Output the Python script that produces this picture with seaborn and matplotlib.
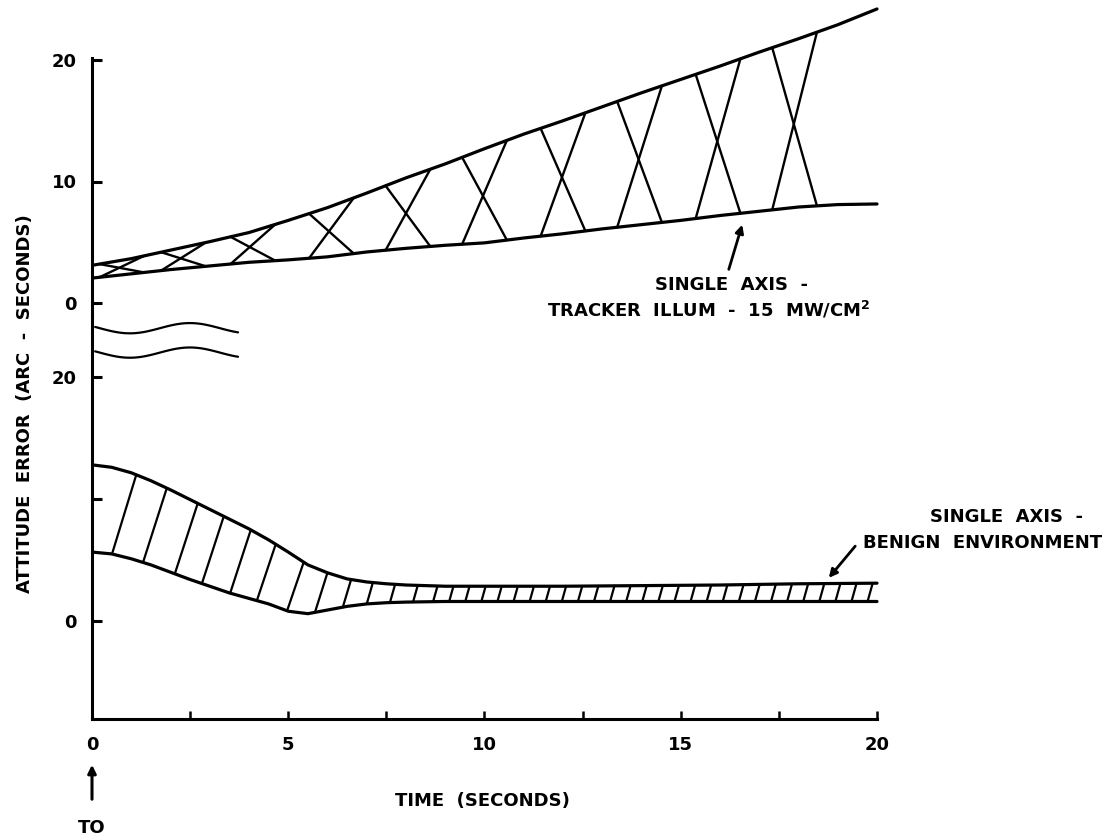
import numpy as np
import matplotlib.pyplot as plt
import seaborn as sns

# ---- data ----
# upper band: single axis, tracker illum 15 mW/cm2 (arc-seconds)
tracker_time = [0, 1, 2, 3, 4, 5, 6, 7, 8, 9, 10, 11, 12, 13, 14, 15, 16, 17, 18, 19, 20]
tracker_upper = [3.1, 3.65, 4.35, 5.05, 5.8, 6.8, 7.85, 9.05, 10.3, 11.45, 12.7,
                 13.9, 15.0, 16.15, 17.3, 18.4, 19.5, 20.65, 21.75, 22.9, 24.2]
tracker_lower = [2.05, 2.4, 2.75, 3.05, 3.35, 3.55, 3.8, 4.2, 4.5, 4.75, 4.95,
                 5.35, 5.7, 6.1, 6.45, 6.8, 7.2, 7.55, 7.9, 8.1, 8.15]

# lower band: single axis, benign environment
benign_time = [0, 0.5, 1, 1.5, 2, 2.5, 3, 3.5, 4, 4.5, 5, 5.5, 6, 6.5, 7, 7.5, 8,
               9, 10, 12, 14, 16, 18, 20]
benign_upper = [12.8, 12.6, 12.15, 11.5, 10.75, 9.95, 9.15, 8.35, 7.55, 6.65, 5.65,
                4.6, 3.95, 3.45, 3.2, 3.05, 2.95, 2.85, 2.85, 2.85, 2.9, 2.95, 3.05, 3.1]
benign_lower = [5.65, 5.5, 5.1, 4.6, 4.0, 3.4, 2.85, 2.3, 1.85, 1.4, 0.8, 0.6, 0.9,
                1.2, 1.4, 1.5, 1.55, 1.6, 1.6, 1.6, 1.6, 1.6, 1.6, 1.6]

# crosses drawn in the upper band (centre times)
cross_centres = [0.76, 2.33, 4.1, 6.1, 8.05, 10.0, 12.0, 13.95, 15.95, 17.9]
# feet of the hatch strokes in the lower band
hatch_feet = [0.51, 1.30, 2.11, 2.80, 3.52, 4.20, 4.97, 5.68, 6.39, 7.0, 7.59, 8.18, 8.69]

x_major = [0, 5, 10, 15, 20]
x_minor = [2.5, 7.5, 12.5, 17.5]
upper_yticks = [0, 10, 20]
lower_yticks = [0, 10, 20]
lower_ylabels = ["0", "", "20"]

# ---- style ----
sns.set_style("white")
plt.rcParams["font.family"] = ["DejaVu Sans"]
plt.rcParams["font.weight"] = "bold"
plt.rcParams["mathtext.default"] = "bf"
plt.rcParams["axes.linewidth"] = 2.2
for key in ["text.color", "axes.labelcolor", "axes.edgecolor", "xtick.color", "ytick.color"]:
    plt.rcParams[key] = "black"

W, H = 1112, 836
PX_X = 39.25          # pixels per second
fig = plt.figure(figsize=(W / 100, H / 100), dpi=100)


def px_axes(left, top, right, bottom):
    return fig.add_axes([left / W, 1 - bottom / H, (right - left) / W, (bottom - top) / H])


x_max = 20.3
right = 92 + x_max * PX_X
ax_top = px_axes(92, 0, right, 315)
ax_bot = px_axes(92, 315, right, 719)
for ax in (ax_top, ax_bot):
    ax.set_facecolor("none")
    ax.set_xlim(0, x_max)

ax_top.set_ylim(-(315 - 303) / 12.15, 303 / 12.15)
ax_bot.set_ylim(-(719 - 621) / 12.2, (621 - 315) / 12.2)

# ---- upper band ----
sns.lineplot(x=tracker_time, y=tracker_upper, ax=ax_top, color="black", lw=2.3)
sns.lineplot(x=tracker_time, y=tracker_lower, ax=ax_top, color="black", lw=2.3)
half = 0.57
for c in cross_centres:
    a, b = c - half, c + half
    lo_a, lo_b = np.interp([a, b], tracker_time, tracker_lower)
    hi_a, hi_b = np.interp([a, b], tracker_time, tracker_upper)
    ax_top.plot([a, b], [lo_a, hi_b], color="black", lw=1.7)
    ax_top.plot([a, b], [hi_a, lo_b], color="black", lw=1.7)

# ---- lower band ----
sns.lineplot(x=benign_time, y=benign_upper, ax=ax_bot, color="black", lw=2.3)
sns.lineplot(x=benign_time, y=benign_lower, ax=ax_bot, color="black", lw=2.3)
feet = np.concatenate([hatch_feet, np.arange(9.1, 19.8, 0.41)])
slant = 0.28 * 12.2 / PX_X   # seconds of lean per unit of height
for f in feet:
    lo = np.interp(f, benign_time, benign_lower)
    hi = np.interp(f, benign_time, benign_upper)
    top_t = f + slant * (hi - lo)
    hi = np.interp(top_t, benign_time, benign_upper)
    ax_bot.plot([f, top_t], [lo, hi], color="black", lw=1.6)

# ---- axes ----
sns.despine(ax=ax_top, top=True, right=True, bottom=True)
sns.despine(ax=ax_bot, top=True, right=True)
ax_top.spines["left"].set_bounds(ax_top.get_ylim()[0], 20.15)
ax_bot.spines["bottom"].set_bounds(0, 20)

ax_top.set_xticks([])
ax_top.set_yticks(upper_yticks)
ax_bot.set_yticks(lower_yticks)
ax_bot.set_yticklabels(lower_ylabels)
ax_bot.set_xticks(x_major)
ax_bot.set_xticks(x_minor, minor=True)
for ax in (ax_top, ax_bot):
    ax.tick_params(axis="y", direction="in", length=7.5, width=2.2, pad=11,
                   labelsize=13, left=True)
ax_bot.tick_params(axis="x", which="both", direction="in", length=5.5, width=1.8,
                   pad=12, labelsize=13, bottom=True)

# axis break marks
bt = np.linspace(0.08, 3.72, 80)
wave = 0.42 * np.sin(2 * np.pi * (bt - 0.2) / 3.06)
ax_bot.plot(bt, 24.0 - wave, color="black", lw=1.6, clip_on=False)
ax_bot.plot(bt, 22.0 - wave, color="black", lw=1.6, clip_on=False)

# ---- labels ----
fig.text(25 / W, 1 - 404 / H, "ATTITUDE  ERROR  (ARC  -  SECONDS)", rotation=90,
         ha="center", va="center", fontsize=13)
fig.text(482 / W, 1 - 801 / H, "TIME  (SECONDS)", ha="center", va="center", fontsize=13)
fig.text(92 / W, 1 - 828 / H, "TO", ha="center", va="center", fontsize=13)
ax_bot.annotate("", xy=(0, H - 762), xycoords=("data", "figure pixels"),
                xytext=(0, H - 802), textcoords=("data", "figure pixels"),
                arrowprops=dict(arrowstyle="-|>", lw=2.2, color="black", mutation_scale=12),
                annotation_clip=False)

ax_top.text((655 - 92) / PX_X, (303 - 285) / 12.15, "SINGLE  AXIS  -",
            ha="left", va="center", fontsize=13)
ax_top.text((547 - 92) / PX_X, (303 - 310) / 12.15, "TRACKER  ILLUM  -  15  MW/CM$^{2}$",
            ha="left", va="center", fontsize=13)
ax_top.annotate("", xy=((743 - 92) / PX_X, (303 - 222) / 12.15),
                xytext=((728 - 92) / PX_X, (303 - 272) / 12.15),
                arrowprops=dict(arrowstyle="-|>", lw=2.0, color="black", mutation_scale=12))

ax_bot.text((930 - 92) / PX_X, (621 - 517) / 12.2, "SINGLE  AXIS  -",
            ha="left", va="center", fontsize=13, clip_on=False)
ax_bot.text((863 - 92) / PX_X, (621 - 543) / 12.2, "BENIGN  ENVIRONMENT",
            ha="left", va="center", fontsize=13, clip_on=False)
ax_bot.annotate("", xy=((827 - 92) / PX_X, (621 - 580) / 12.2),
                xytext=((857 - 92) / PX_X, (621 - 544) / 12.2),
                arrowprops=dict(arrowstyle="-|>", lw=2.0, color="black", mutation_scale=12),
                annotation_clip=False)

fig.savefig("out.png", dpi=100)
